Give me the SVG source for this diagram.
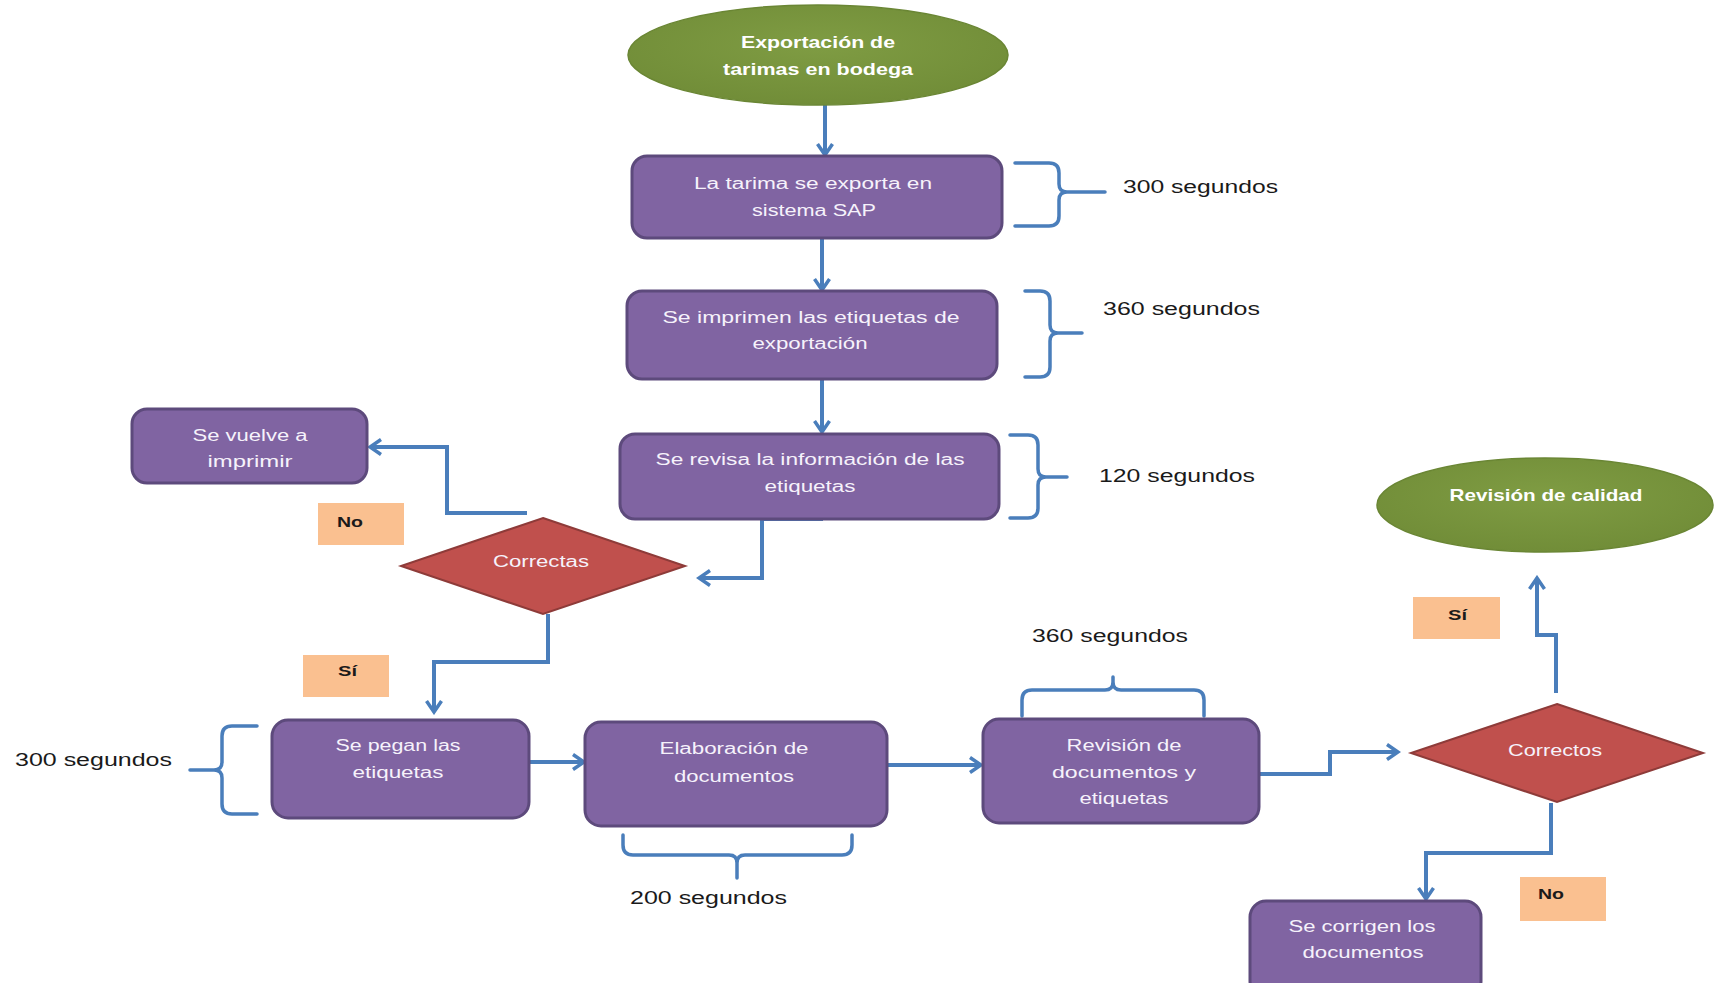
<svg xmlns="http://www.w3.org/2000/svg" width="1714" height="983" viewBox="0 0 1714 983">
<defs>
<style>
.box{fill:#8064a2;stroke:#5d4a7c;stroke-width:3}
.dia{fill:#c0504d;stroke:#8e3b39;stroke-width:2}
.ell{fill:url(#gg);stroke:#6a8634;stroke-width:1.5}
.lab{fill:#fac090}
.con{fill:none;stroke:#4a7ebb;stroke-width:4;stroke-linejoin:miter}
.brk{fill:none;stroke:#4a7ebb;stroke-width:3.5;stroke-linecap:round;stroke-linejoin:round}
.nt{font-family:"Liberation Sans",Arial,sans-serif;font-size:16px;fill:#f6f2fb;text-anchor:middle}
.et{font-family:"Liberation Sans",Arial,sans-serif;font-size:17px;font-weight:bold;fill:#ffffff;text-anchor:middle}
.st{font-family:"Liberation Sans",Arial,sans-serif;font-size:18px;fill:#1a1a1a}
.yt{font-family:"Liberation Sans",Arial,sans-serif;font-size:15px;font-weight:bold;fill:#1a1a1a}
</style>
<radialGradient id="gg" cx="50%" cy="40%" r="60%">
<stop offset="0" stop-color="#7f9c43"/>
<stop offset="1" stop-color="#718d38"/>
</radialGradient>
<marker id="ah" viewBox="0 0 16 18" refX="13" refY="9" markerWidth="16" markerHeight="18" markerUnits="userSpaceOnUse" orient="auto">
<path d="M2,1.5 L13,9 L2,16.5" fill="none" stroke="#4a7ebb" stroke-width="3.5" stroke-linejoin="miter"/>
</marker>
</defs>
<rect width="1714" height="983" fill="#ffffff"/>

<g id="connectors">
<path class="con" d="M825,105 L825,155" marker-end="url(#ah)"/>
<path class="con" d="M822,238 L822,290" marker-end="url(#ah)"/>
<path class="con" d="M822,379 L822,432" marker-end="url(#ah)"/>
<path class="con" d="M823,519 L762,519 L762,578 L699,578" marker-end="url(#ah)"/>
<path class="con" d="M527,513 L447,513 L447,447 L370,447" marker-end="url(#ah)"/>
<path class="con" d="M548,614 L548,662 L434,662 L434,712" marker-end="url(#ah)"/>
<path class="con" d="M529,762 L584,762" marker-end="url(#ah)"/>
<path class="con" d="M887,765 L981,765" marker-end="url(#ah)"/>
<path class="con" d="M1260,774 L1330,774 L1330,752 L1398,752" marker-end="url(#ah)"/>
<path class="con" d="M1556,693 L1556,635 L1537,635 L1537,578" marker-end="url(#ah)"/>
<path class="con" d="M1551,803 L1551,853 L1426,853 L1426,899" marker-end="url(#ah)"/>
</g>

<g id="brackets">
<path class="brk" d="M1015,163 L1049,163 Q1059,163 1059,173 L1059,184 Q1059,192 1067,192 L1105,192 M1067,192 Q1059,192 1059,200 L1059,216 Q1059,226 1049,226 L1015,226"/>
<path class="brk" d="M1025,291 L1040,291 Q1050,291 1050,301 L1050,325 Q1050,333 1058,333 L1082,333 M1058,333 Q1050,333 1050,341 L1050,367 Q1050,377 1040,377 L1025,377"/>
<path class="brk" d="M1010,435 L1028,435 Q1038,435 1038,445 L1038,469 Q1038,477 1046,477 L1067,477 M1046,477 Q1038,477 1038,485 L1038,508 Q1038,518 1028,518 L1010,518"/>
<path class="brk" d="M257,726 L232,726 Q222,726 222,736 L222,762 Q222,770 214,770 L190,770 M214,770 Q222,770 222,778 L222,804 Q222,814 232,814 L257,814"/>
<path class="brk" d="M623,835 L623,845 Q623,855 633,855 L729,855 Q737,855 737,863 L737,878 M737,863 Q737,855 745,855 L842,855 Q852,855 852,845 L852,835"/>
<path class="brk" d="M1022,716 L1022,700 Q1022,690 1032,690 L1105,690 Q1113,690 1113,682 L1113,677 M1113,682 Q1113,690 1121,690 L1194,690 Q1204,690 1204,700 L1204,716"/>
</g>

<g id="n-inicio">
<ellipse class="ell" cx="818" cy="55" rx="190" ry="50"/>
<text class="et" x="818" y="48" textLength="154" lengthAdjust="spacingAndGlyphs">Exportación de</text>
<text class="et" x="818" y="75" textLength="190" lengthAdjust="spacingAndGlyphs">tarimas en bodega</text>
</g>

<g id="n-exporta">
<rect class="box" x="632" y="156" width="370" height="82" rx="15"/>
<text class="nt" x="813" y="189" textLength="238" lengthAdjust="spacingAndGlyphs">La tarima se exporta en</text>
<text class="nt" x="814" y="216" textLength="124" lengthAdjust="spacingAndGlyphs">sistema SAP</text>
</g>

<g id="n-imprimen">
<rect class="box" x="627" y="291" width="370" height="88" rx="15"/>
<text class="nt" x="811" y="323" textLength="297" lengthAdjust="spacingAndGlyphs">Se imprimen las etiquetas de</text>
<text class="nt" x="810" y="349" textLength="115" lengthAdjust="spacingAndGlyphs">exportación</text>
</g>

<g id="n-revisa">
<rect class="box" x="620" y="434" width="379" height="85" rx="15"/>
<text class="nt" x="810" y="465" textLength="309" lengthAdjust="spacingAndGlyphs">Se revisa la información de las</text>
<text class="nt" x="810" y="492" textLength="91" lengthAdjust="spacingAndGlyphs">etiquetas</text>
</g>

<g id="n-vuelve">
<rect class="box" x="132" y="409" width="235" height="74" rx="15"/>
<text class="nt" x="250" y="441" textLength="115" lengthAdjust="spacingAndGlyphs">Se vuelve a</text>
<text class="nt" x="250" y="467" textLength="85" lengthAdjust="spacingAndGlyphs">imprimir</text>
</g>

<g id="n-correctas">
<polygon class="dia" points="543,518 685,566 543,614 401,566"/>
<text class="nt" x="541" y="567" textLength="96" lengthAdjust="spacingAndGlyphs">Correctas</text>
</g>

<g id="l-no1">
<rect class="lab" x="318" y="503" width="86" height="42"/>
<text class="yt" x="337" y="527" textLength="26" lengthAdjust="spacingAndGlyphs">No</text>
</g>

<g id="l-si1">
<rect class="lab" x="303" y="655" width="86" height="42"/>
<text class="yt" x="338" y="676" textLength="19" lengthAdjust="spacingAndGlyphs">Sí</text>
</g>

<g id="n-pegan">
<rect class="box" x="272" y="720" width="257" height="98" rx="16"/>
<text class="nt" x="398" y="751" textLength="125" lengthAdjust="spacingAndGlyphs">Se pegan las</text>
<text class="nt" x="398" y="778" textLength="91" lengthAdjust="spacingAndGlyphs">etiquetas</text>
</g>

<g id="n-elaboracion">
<rect class="box" x="585" y="722" width="302" height="104" rx="16"/>
<text class="nt" x="734" y="754" textLength="149" lengthAdjust="spacingAndGlyphs">Elaboración de</text>
<text class="nt" x="734" y="782" textLength="120" lengthAdjust="spacingAndGlyphs">documentos</text>
</g>

<g id="n-revision">
<rect class="box" x="983" y="719" width="276" height="104" rx="16"/>
<text class="nt" x="1124" y="751" textLength="115" lengthAdjust="spacingAndGlyphs">Revisión de</text>
<text class="nt" x="1124" y="778" textLength="144" lengthAdjust="spacingAndGlyphs">documentos y</text>
<text class="nt" x="1124" y="804" textLength="89" lengthAdjust="spacingAndGlyphs">etiquetas</text>
</g>

<g id="n-correctos">
<polygon class="dia" points="1557,704 1703,753 1557,802 1411,753"/>
<text class="nt" x="1555" y="756" textLength="94" lengthAdjust="spacingAndGlyphs">Correctos</text>
</g>

<g id="l-si2">
<rect class="lab" x="1413" y="597" width="87" height="42"/>
<text class="yt" x="1448" y="620" textLength="19" lengthAdjust="spacingAndGlyphs">Sí</text>
</g>

<g id="l-no2">
<rect class="lab" x="1520" y="877" width="86" height="44"/>
<text class="yt" x="1538" y="899" textLength="26" lengthAdjust="spacingAndGlyphs">No</text>
</g>

<g id="n-corrigen">
<rect class="box" x="1250" y="901" width="231" height="96" rx="16"/>
<text class="nt" x="1362" y="932" textLength="147" lengthAdjust="spacingAndGlyphs">Se corrigen los</text>
<text class="nt" x="1363" y="958" textLength="121" lengthAdjust="spacingAndGlyphs">documentos</text>
</g>

<g id="n-calidad">
<ellipse class="ell" cx="1545" cy="505" rx="168" ry="47"/>
<text class="et" x="1546" y="501" textLength="193" lengthAdjust="spacingAndGlyphs">Revisión de calidad</text>
</g>

<g id="t-tiempos">
<text class="st" x="1123" y="193" textLength="155" lengthAdjust="spacingAndGlyphs">300 segundos</text>
<text class="st" x="1103" y="315" textLength="157" lengthAdjust="spacingAndGlyphs">360 segundos</text>
<text class="st" x="1099" y="482" textLength="156" lengthAdjust="spacingAndGlyphs">120 segundos</text>
<text class="st" x="15" y="766" textLength="157" lengthAdjust="spacingAndGlyphs">300 segundos</text>
<text class="st" x="630" y="904" textLength="157" lengthAdjust="spacingAndGlyphs">200 segundos</text>
<text class="st" x="1032" y="642" textLength="156" lengthAdjust="spacingAndGlyphs">360 segundos</text>
</g>
</svg>
